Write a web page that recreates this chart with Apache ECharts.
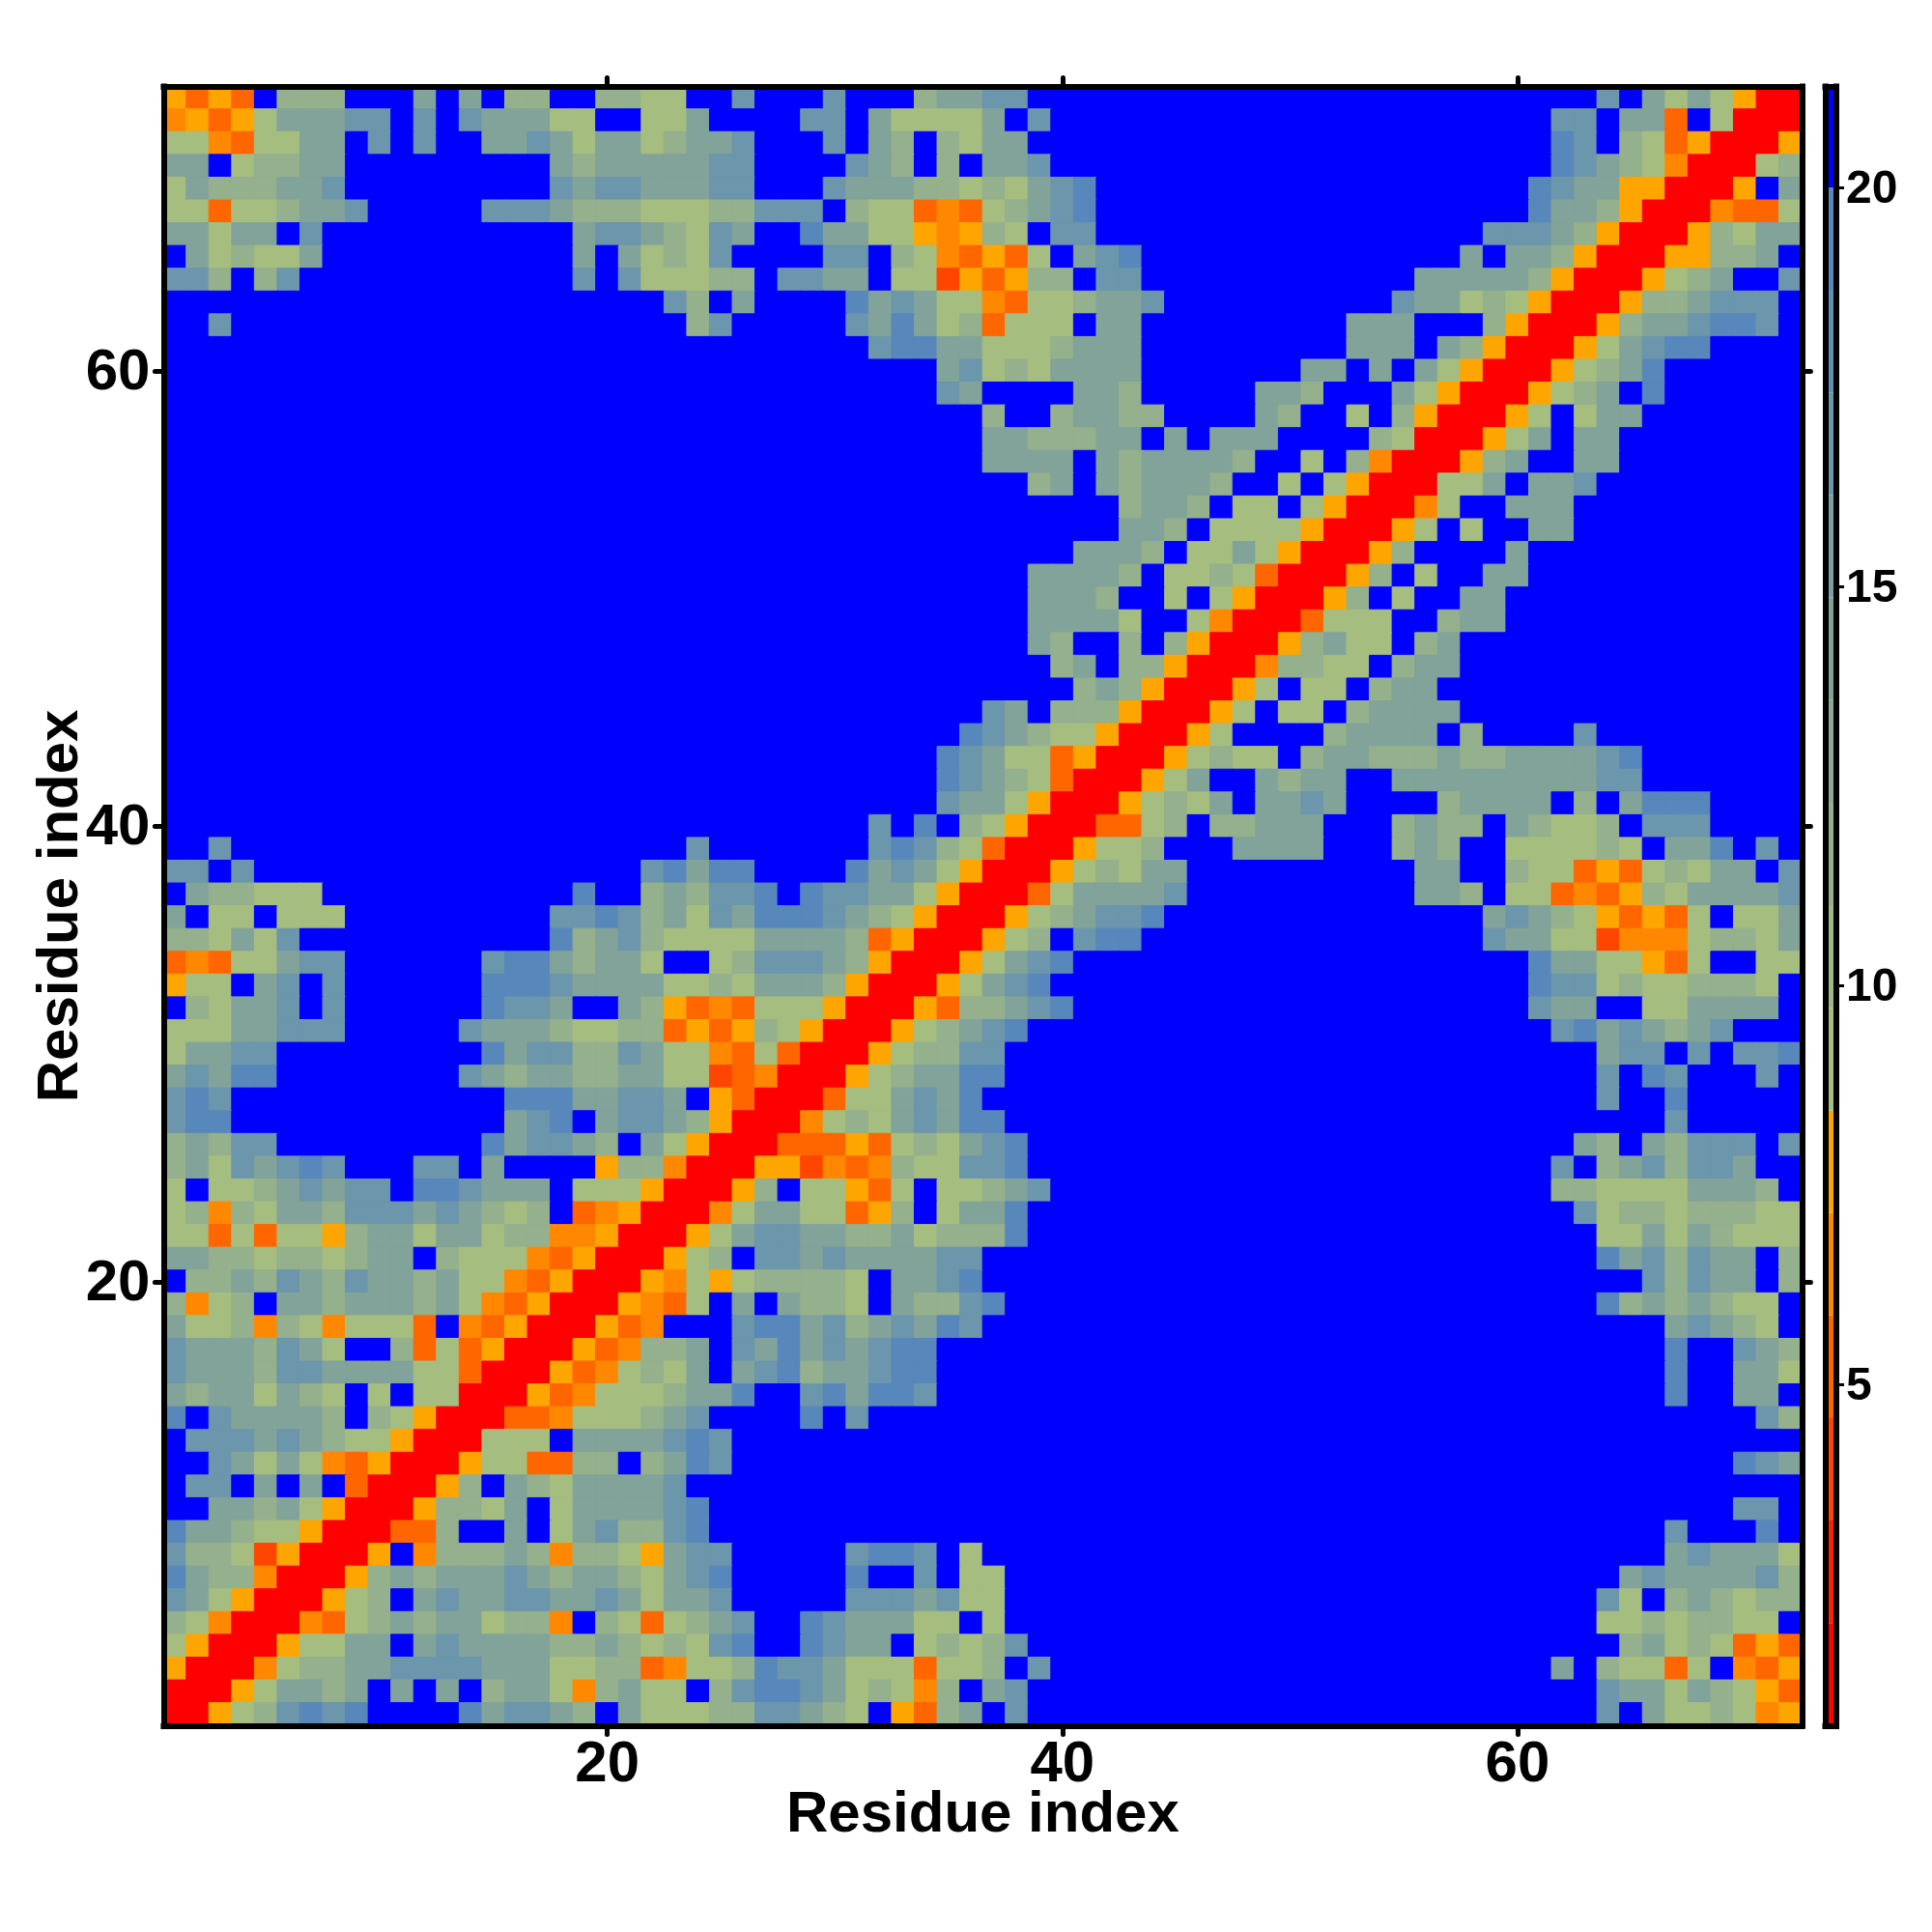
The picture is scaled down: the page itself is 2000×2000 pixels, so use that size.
<!DOCTYPE html>
<html>
<head>
<meta charset="utf-8">
<style>html,body{margin:0;padding:0;background:#fff}#chart{width:2000px;height:2000px}</style>
<script src="https://cdn.jsdelivr.net/npm/echarts@6/dist/echarts.min.js"></script>
</head>
<body>
<div id="chart"></div>
<script>
// Distance class of each residue pair: top row (index 72) first.
// Each row is three 24-column blocks; "12b" means twelve cells of class b.
const contactRows = [
"MOMObcccbbbebebccbbccaab bgbbbgbbbceegg10b 15bgbeaeaMRR",
"NMOMaeeeggbgbgeeeaabbaae bbbbggbeaaaaebg9b 13bggbeeObaRRR",
"aaNOaaeebgbgbbeegeaeeace egbbbgbecbcaee10b 13bigbcaOMRRRM",
"eebaccee9beceeeee ggbbbbgecbcbeeg9b 13bigecaNRRRac",
"aeccceeg9bgeggeee ggbbbgeeeccacaegi7b 12bigeeMMRRRMbe",
"aaOaaceeg5bgggecccaaa ccgggbcaaONOacegi7b 12bieecMRRRNOOa",
"eeaeebg11beggeca gebbieeaaMNMcabgg7b 10bgggecMRRRMcaee",
"beacaae11bebeaca gbbbbggbcaNOMOabegi5b 9bebeecMRRRMMcceb",
"ggcbcg12bgbgaaa ccbggeebaaPMOMccbgg5b 7beeeeecMRRRMacebbg",
"22bgc bebbbbiegeaaNOaaceeg4b 6bgeeacaMRRRMccegggb",
"bbg20bc g5bgeieacOaaabee5b 4beeebbbcMRRRMceegiigb",
"24b 7bgiieeaaaceee5b 4beeebecMRRRMaegii4b",
"24b 10begacaeeee5b bbeebebeaMRRRMacei6b",
"24b 10bge4beec5b eec3beaMRRRMacebi6b",
"24b 12bcbbceecc4b ecbbabcMRRRMabaee7b",
"24b 12beeccceebebee e4bcaRRRMaebee8b",
"24b 12beeeebeceeeec bbabcNRRRMcebbee8b",
"24b 14bcebeceeecb babaMRRRaaebeeg9b",
"24b 18bceecba abaMRRRNabbeee10b",
"24b 18beecbaa aaMRRRMababbee10b",
"24b 16beeecbaae aMRRRMc4be12b",
"24b 14beeeecbaaca ORRRMcbabbee12b",
"24b 14beeecbbabaM RRRMcbabbee13b",
"24b 14beeeeabbaNR RROaaabbcee13b",
"24b 14becbbcbcMRR RMceaabce15b",
"24b 15bcebccMRRR Nccaabcee15b",
"24b 16bcecMRRRM abaabcee16b",
"24b 12bgebcccMRRRMa baabceeee15b",
"24b 11bigecaaMRRRMab bbbceeeebc4bg9b",
"24b 10bigeaaOMRRRMaca abceecccecceeeegi7b",
"24b 10bigecaORRRMaebb eceebbeeeeeeeeegg7b",
"24b 10bgeeaMRRRMacaeb eege4bceeeebcbeiii4b",
"24b 7bgbibcaMRRROOacbcc eee3bceccbecaacbggg4b",
"bbg20bg 7bgigcaORRRMaacbbbe eee3bcecbbaaaacabeeibgb",
"ggbg17bgie ii4biegeaMRRRMacaee3b 7beebbcaaOMOacaeebg",
"beccaaa11bibbcec ggibiggeeaMRRROaeeeeg3b 7beecbaaONOMcaeeeeg",
"ebaabaaa9bggigcea geiiigecaMRRRMaceggi4b 10begecaMOMOabaae",
"ccaeagbb9bicegcaa aaeeeecOMRRRMacbgii5b 10bgeeaaPNNNaccae",
"ONOaaegg6bgiieceeabb acgggecMRRRMaegi8b 12bieeaaMOabbaa",
"Maabegbg6biiigeeeeaa caeeecMRRRMaegi9b 12biggacaacccab",
"bcaeegbg6biggebbecMO NOaaaMRRRMOccegi8b 12bgeebbaaeeeeb",
"aaaeeggg5bgeeecaaccOM OMcaMRRRMacegi10b 13bgiegecegbbb",
"aeegg9bieggccgeaa NOaORRRMaccgg11b 15beggbgbggi",
"egeii8bgeceecceeaa PONRRRMaceeii11b 15bgbigbbbgb",
"gig12biiieeggeb MORRROaaegei12b 15bgbbi5b",
"gii12begibeggec MRRRNacaegeii11b 18bg5b",
"cecgg9bieggecbeaM RRROOOMOacaegi10b 14becbecgggbg",
"ceagegigbbbggbe4bMccNR RRMMPNONcaaggi10b 13bgbcegcggebb",
"abaacegeggbiigeeebaaaMRR RMcbaaMOabaaceg9b 13bccaaaaeeecb",
"acNcaeecgggegecacbONMRRR NaeeaaOMcbaeei10b 14bgaccacccaa",
"aaOaOaaMceeaeeaccNNMRRRM aeggeecceaccci10b 15baaeaecaaa",
"eeccaccaceebcaaaNOMRRRMa cbggegeeeegg12b 15biegcgeebc",
"bccecgecgeeceaaNOMRRRMNa Maccccabeegi12b 15bbbgcgeebc",
"cNacbeeceeeceaNOMRRRMNOa bebeccabeccgi11b 15bicececaab",
"eaacNcaNaaaObNOMRRRMONbb bgiiegcegeig12b 18begecab",
"geeecgeabbcOaOMRRRMONcce bgeiegegii14b 18bibbgec",
"geeecggeeeeaaORRRMONacae begiceegii14b 18bibbeea",
"eceeaecababaaRRRMONaaace eibbgieiig14b 18bibbeeb",
"ibgeeeecbcaMRRROONaaaceg bbbbibg17b 22bgc",
"bgggegecaaMRRRaaabeeeegi g23b 24b",
"bbgeaeaNOMRRRMaaOOccbcei g23b 21bige",
"bggbebebORRRMcbecaeeeegb 24b 24b",
"bbeeceaMRRRMccaebaeeeegi 24b 21bggb",
"ieecaaMRRROOcbbebaegccgi 24b 18bg3bib",
"gccaPMRRRMbNcccecNccaMeg g5bgiigba12b 18begeeea",
"ieccNRRRMceceeegeceecaeg i5bibbgbaa11b 16begeeeegc",
"geaMRRRMacbegeeggeegeaee g5bgggegaa11b 15bgabcecacc",
"caNRRRNOaceceeaccNbcaOac egbbigeeeaaba11b 15baacaccaab",
"aMRRRMaaeebegeeeeccecaca gibbigeebacacg10b 16bceacaOMO",
"MRRRNacceeggggeeeaaccONa aciggeaaaOaacbg9b 13bebcaaOabNOM",
"RRRMaeecebebebceeaNceaab cgiigeacaNcbeg10b 15bgeeaecaMO",
"RRMacgigibbbbieggecbeaaa ccggecabMOcebg10b 15bgbeaacaNM"
];
// Representative distance of each class (middle of its colour bin).
const classValues = {R:1.37,P:3.94,O:5.23,N:6.51,M:7.80,a:9.08,c:11.65,e:14.22,g:16.79,i:19.36,b:20.6};
// Colour bar: upper limit of each bin, and its colour.
const barStart = 0.73;
const binTops = [2.015,3.3,4.585,5.87,7.155,8.44,9.725,11.01,12.295,13.58,14.865,16.15,17.435,18.72,20,21.27];
const binColors = ["#ff0000","#ff2200","#ff4500","#ff6600","#ff8800","#ffa500","#a6bd80","#9eb985","#94b08c","#8baa91","#82a399","#79a0a2","#6c96ab","#628eb3","#5887bb","#0000ff"];
const residueTicks = ["20","40","60"];
const barTicks = [5,10,15,20];
const axisTitle = "Residue index";

const font = "Liberation Sans";
const residues = Array.from({length:72},(_,i)=>String(i+1));
const colorOf = v => binColors[binTops.findIndex(t=>v<t)];
const data = [];
contactRows.forEach((row,r)=>{
  const cells = row.replace(/\s+/g,"").replace(/(\d+)b/g,(m,n)=>"b".repeat(+n));
  if(cells.length!==72) throw new Error("row "+(r+1)+" has "+cells.length+" cells");
  [...cells].forEach((c,k)=>{
    const v = classValues[c];
    data.push({value:[k,71-r,v],itemStyle:{borderColor:colorOf(v),borderWidth:1}});
  });
});
const pieces = binTops.map((t,i)=>({gte:i?binTops[i-1]:0,lt:i===binTops.length-1?99:t,color:binColors[i]}));
const showTick = (i,v)=>residueTicks.includes(v);
const frame = {show:true,onZero:false,lineStyle:{color:"#000",width:6,cap:"square"}};
const tick = {show:true,interval:showTick,alignWithLabel:true,length:9,lineStyle:{color:"#000",width:5,cap:"round"}};
const noLabel = {show:false};
const mainLabel = {show:true,interval:showTick,color:"#000",fontFamily:font,fontWeight:"bold",fontSize:60};
const title = {name:axisTitle,nameLocation:"middle",nameMoveOverlap:false,nameTextStyle:{color:"#000",fontFamily:font,fontWeight:"bold",fontSize:60}};
const cat = {type:"category",data:residues,boundaryGap:true,z:10,splitLine:{show:false},axisLine:frame,axisTick:tick};
const barVal = {type:"value",gridIndex:1,min:barStart,max:21.27,z:10,splitLine:{show:false},axisLine:frame,scale:true};
const barCat = {type:"category",gridIndex:1,data:["bar"],z:10,axisLine:frame,axisTick:{show:false},axisLabel:noLabel,splitLine:{show:false}};

const barSeries = binTops.map((t,i)=>({
  type:"bar",xAxisIndex:2,yAxisIndex:2,stack:"colourbar",barWidth:"100%",silent:true,
  data:[+(t-(i?binTops[i-1]:0)).toFixed(3)],itemStyle:{color:binColors[i]}
}));

const chart = echarts.init(document.getElementById("chart"),null,{renderer:"canvas"});
chart.setOption({
  animation:false,
  backgroundColor:"#fff",
  grid:[
    {left:169.4,top:89.4,width:1696,height:1697},
    {left:1889.5,top:89.4,width:11.5,height:1697}
  ],
  visualMap:{show:false,type:"piecewise",seriesIndex:0,dimension:2,pieces:pieces},
  xAxis:[
    {...cat,...title,nameGap:63,position:"bottom",axisLabel:{...mainLabel,margin:11}},
    {...cat,position:"top",axisLabel:noLabel},
    {...barCat,position:"bottom"},
    {...barCat,position:"top"}
  ],
  yAxis:[
    {...cat,...title,nameGap:76,position:"left",axisLabel:{...mainLabel,margin:14,verticalAlign:"top",lineHeight:5}},
    {...cat,position:"right",axisLabel:noLabel},
    {...barVal,position:"right",
      axisTick:{show:true,customValues:barTicks,length:8,lineStyle:{color:"#000",width:3}},
      axisLabel:{show:true,customValues:barTicks,color:"#000",fontFamily:font,fontWeight:"bold",fontSize:48,margin:10,verticalAlign:"top",lineHeight:5}},
    {...barVal,position:"left",axisTick:{show:false},axisLabel:noLabel}
  ],
  series:[
    {type:"heatmap",xAxisIndex:0,yAxisIndex:0,data:data,silent:true,progressive:0},
    ...barSeries
  ]
});
</script>
</body>
</html>
